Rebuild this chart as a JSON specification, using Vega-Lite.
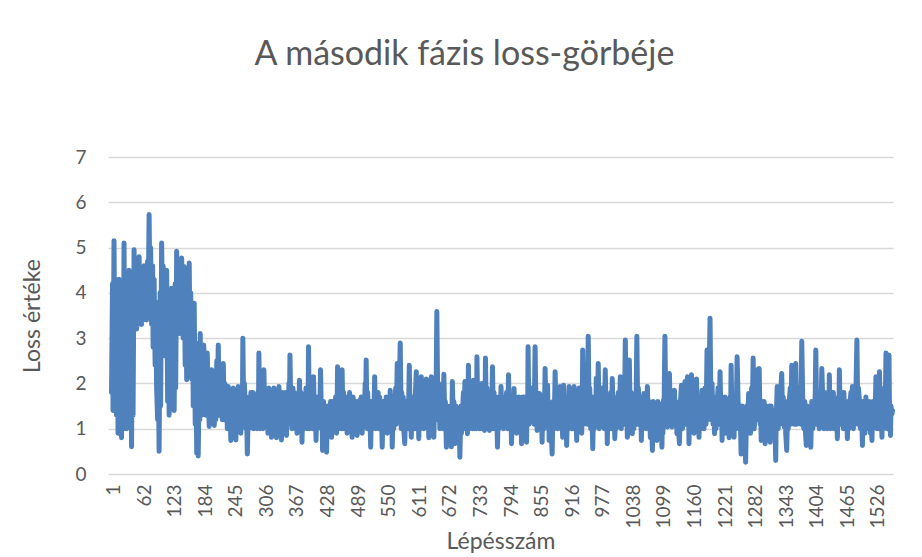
{
  "$schema": "https://vega.github.io/schema/vega-lite/v6.json",
  "width": 785,
  "height": 317,
  "autosize": {"type": "none"},
  "padding": {"left": 108, "top": 157, "right": 29, "bottom": 83},
  "background": "#ffffff",
  "config": {"font": "Lato", "view": {"stroke": null}},
  "title": {"text": "A második fázis loss-görbéje", "fontSize": 34, "fontWeight": "normal", "color": "#595959", "baseline": "alphabetic", "offset": 49, "dx": -36, "anchor": "middle", "frame": "group"},
  "data": {"values": [
{"step":1,"loss":1.8},{"step":3,"loss":4.2},{"step":4,"loss":1.4},{"step":6,"loss":5.15},{"step":8,"loss":1.5},{"step":9,"loss":4.3},{"step":11,"loss":1.3},{"step":13,"loss":4.0},{"step":14,"loss":0.9},{"step":16,"loss":4.3},{"step":18,"loss":1.2},{"step":19,"loss":3.8},{"step":21,"loss":0.8},{"step":23,"loss":4.2},{"step":24,"loss":1.0},{"step":26,"loss":5.1},{"step":28,"loss":1.3},{"step":29,"loss":4.4},{"step":31,"loss":1.0},{"step":33,"loss":4.1},{"step":34,"loss":1.2},{"step":36,"loss":4.5},{"step":38,"loss":1.5},{"step":39,"loss":3.6},{"step":41,"loss":0.6},{"step":43,"loss":3.9},{"step":44,"loss":1.3},{"step":46,"loss":4.95},{"step":48,"loss":3.4},{"step":49,"loss":4.6},{"step":51,"loss":3.2},{"step":53,"loss":4.5},{"step":54,"loss":3.3},{"step":56,"loss":4.8},{"step":58,"loss":3.5},{"step":59,"loss":4.4},{"step":61,"loss":3.3},{"step":63,"loss":4.3},{"step":64,"loss":3.4},{"step":66,"loss":4.6},{"step":68,"loss":3.6},{"step":69,"loss":4.5},{"step":71,"loss":3.4},{"step":73,"loss":4.7},{"step":74,"loss":3.5},{"step":76,"loss":5.73},{"step":78,"loss":3.6},{"step":79,"loss":5.0},{"step":81,"loss":3.3},{"step":83,"loss":4.6},{"step":84,"loss":2.8},{"step":86,"loss":4.3},{"step":88,"loss":2.4},{"step":89,"loss":3.8},{"step":91,"loss":1.9},{"step":93,"loss":1.2},{"step":94,"loss":2.6},{"step":96,"loss":0.5},{"step":98,"loss":4.0},{"step":99,"loss":1.5},{"step":101,"loss":5.1},{"step":103,"loss":3.3},{"step":104,"loss":4.6},{"step":106,"loss":3.0},{"step":108,"loss":4.2},{"step":109,"loss":2.6},{"step":111,"loss":4.5},{"step":113,"loss":1.6},{"step":114,"loss":3.9},{"step":116,"loss":1.3},{"step":118,"loss":3.7},{"step":119,"loss":1.6},{"step":121,"loss":4.1},{"step":123,"loss":1.8},{"step":124,"loss":3.5},{"step":126,"loss":1.4},{"step":128,"loss":4.2},{"step":129,"loss":1.9},{"step":131,"loss":4.92},{"step":133,"loss":3.4},{"step":134,"loss":4.6},{"step":136,"loss":3.1},{"step":138,"loss":4.3},{"step":139,"loss":3.3},{"step":141,"loss":4.77},{"step":142,"loss":3.4},{"step":144,"loss":3.0},{"step":146,"loss":4.58},{"step":148,"loss":2.4},{"step":149,"loss":4.2},{"step":151,"loss":2.08},{"step":153,"loss":4.2},{"step":154,"loss":2.5},{"step":156,"loss":4.66},{"step":158,"loss":2.4},{"step":159,"loss":4.0},{"step":161,"loss":2.1},{"step":163,"loss":3.4},{"step":164,"loss":1.5},{"step":166,"loss":3.77},{"step":168,"loss":1.1},{"step":169,"loss":2.9},{"step":171,"loss":0.46},{"step":172,"loss":1.6},{"step":174,"loss":0.4},{"step":176,"loss":2.2},{"step":177,"loss":1.2},{"step":178,"loss":3.1},{"step":179,"loss":1.6},{"step":180,"loss":2.7},{"step":181,"loss":1.3},{"step":183,"loss":2.3},{"step":185,"loss":2.85},{"step":187,"loss":1.8},{"step":189,"loss":1.3},{"step":190,"loss":2.0},{"step":192,"loss":2.67},{"step":194,"loss":1.7},{"step":196,"loss":1.05},{"step":198,"loss":1.9},{"step":199,"loss":1.2},{"step":201,"loss":2.3},{"step":203,"loss":1.4},{"step":204,"loss":2.0},{"step":206,"loss":1.07},{"step":208,"loss":1.9},{"step":209,"loss":1.2},{"step":211,"loss":2.5},{"step":212,"loss":1.6},{"step":214,"loss":2.85},{"step":216,"loss":1.3},{"step":217,"loss":2.3},{"step":219,"loss":1.5},{"step":221,"loss":2.0},{"step":222,"loss":1.2},{"step":224,"loss":2.44},{"step":226,"loss":1.2},{"step":227,"loss":2.0},{"step":229,"loss":1.48},{"step":231,"loss":1.7},{"step":232,"loss":1.0},{"step":234,"loss":1.93},{"step":236,"loss":1.0},{"step":237,"loss":1.7},{"step":239,"loss":0.74},{"step":241,"loss":1.7},{"step":242,"loss":1.0},{"step":244,"loss":1.9},{"step":246,"loss":1.0},{"step":247,"loss":1.6},{"step":249,"loss":0.75},{"step":251,"loss":1.6},{"step":252,"loss":1.0},{"step":254,"loss":1.93},{"step":256,"loss":1.1},{"step":257,"loss":1.7},{"step":259,"loss":0.9},{"step":261,"loss":1.8},{"step":262,"loss":1.1},{"step":263,"loss":3.0},{"step":265,"loss":1.1},{"step":266,"loss":2.0},{"step":268,"loss":1.5},{"step":269,"loss":1.0},{"step":270,"loss":1.7},{"step":272,"loss":0.44},{"step":274,"loss":1.6},{"step":275,"loss":1.0},{"step":276,"loss":1.5},{"step":278,"loss":1.1},{"step":279,"loss":1.8},{"step":281,"loss":1.3},{"step":283,"loss":1.8},{"step":284,"loss":1.0},{"step":286,"loss":1.6},{"step":288,"loss":1.1},{"step":289,"loss":1.7},{"step":291,"loss":1.0},{"step":293,"loss":1.8},{"step":294,"loss":1.1},{"step":295,"loss":2.67},{"step":297,"loss":1.0},{"step":298,"loss":1.8},{"step":300,"loss":1.3},{"step":302,"loss":1.9},{"step":303,"loss":1.0},{"step":305,"loss":2.3},{"step":307,"loss":1.1},{"step":308,"loss":1.8},{"step":310,"loss":1.3},{"step":312,"loss":1.7},{"step":313,"loss":0.9},{"step":315,"loss":1.9},{"step":317,"loss":1.1},{"step":318,"loss":1.6},{"step":320,"loss":0.81},{"step":322,"loss":1.6},{"step":323,"loss":1.0},{"step":325,"loss":1.9},{"step":327,"loss":1.0},{"step":328,"loss":1.7},{"step":330,"loss":0.8},{"step":332,"loss":1.7},{"step":333,"loss":1.0},{"step":335,"loss":1.93},{"step":337,"loss":1.1},{"step":338,"loss":1.6},{"step":340,"loss":0.75},{"step":342,"loss":1.8},{"step":343,"loss":1.0},{"step":345,"loss":1.6},{"step":347,"loss":1.1},{"step":348,"loss":1.8},{"step":350,"loss":0.85},{"step":352,"loss":1.7},{"step":353,"loss":1.1},{"step":355,"loss":2.0},{"step":356,"loss":1.4},{"step":357,"loss":2.63},{"step":359,"loss":1.2},{"step":360,"loss":1.8},{"step":361,"loss":1.0},{"step":363,"loss":1.9},{"step":364,"loss":1.1},{"step":366,"loss":1.8},{"step":368,"loss":1.0},{"step":369,"loss":1.7},{"step":371,"loss":0.9},{"step":373,"loss":1.6},{"step":374,"loss":1.0},{"step":376,"loss":2.07},{"step":378,"loss":1.1},{"step":379,"loss":1.8},{"step":381,"loss":0.7},{"step":383,"loss":1.7},{"step":384,"loss":1.0},{"step":386,"loss":1.6},{"step":388,"loss":1.1},{"step":389,"loss":1.9},{"step":391,"loss":1.0},{"step":392,"loss":1.7},{"step":393,"loss":1.2},{"step":394,"loss":2.81},{"step":396,"loss":1.0},{"step":397,"loss":1.8},{"step":399,"loss":1.2},{"step":401,"loss":1.8},{"step":402,"loss":1.0},{"step":404,"loss":2.15},{"step":406,"loss":1.1},{"step":407,"loss":1.7},{"step":409,"loss":0.74},{"step":411,"loss":1.7},{"step":412,"loss":1.0},{"step":414,"loss":1.6},{"step":416,"loss":1.1},{"step":418,"loss":2.3},{"step":420,"loss":1.0},{"step":421,"loss":1.6},{"step":422,"loss":0.52},{"step":424,"loss":1.6},{"step":425,"loss":0.9},{"step":427,"loss":1.5},{"step":428,"loss":0.9},{"step":429,"loss":1.4},{"step":430,"loss":0.48},{"step":432,"loss":1.5},{"step":433,"loss":0.9},{"step":435,"loss":1.48},{"step":437,"loss":1.0},{"step":438,"loss":1.6},{"step":440,"loss":0.81},{"step":442,"loss":1.6},{"step":443,"loss":1.0},{"step":445,"loss":1.48},{"step":447,"loss":1.0},{"step":448,"loss":1.7},{"step":450,"loss":0.9},{"step":451,"loss":1.5},{"step":452,"loss":2.37},{"step":454,"loss":1.0},{"step":455,"loss":1.8},{"step":457,"loss":1.4},{"step":459,"loss":1.0},{"step":461,"loss":2.3},{"step":463,"loss":1.0},{"step":464,"loss":1.8},{"step":466,"loss":1.4},{"step":468,"loss":1.0},{"step":469,"loss":1.7},{"step":471,"loss":0.9},{"step":473,"loss":1.6},{"step":474,"loss":1.0},{"step":476,"loss":1.8},{"step":478,"loss":1.0},{"step":479,"loss":1.6},{"step":481,"loss":0.81},{"step":483,"loss":1.7},{"step":484,"loss":1.0},{"step":486,"loss":1.48},{"step":488,"loss":1.0},{"step":489,"loss":1.6},{"step":491,"loss":0.85},{"step":493,"loss":1.5},{"step":494,"loss":1.0},{"step":496,"loss":1.63},{"step":498,"loss":1.0},{"step":499,"loss":1.7},{"step":501,"loss":0.9},{"step":503,"loss":1.7},{"step":505,"loss":1.1},{"step":507,"loss":2.0},{"step":508,"loss":1.4},{"step":509,"loss":2.52},{"step":511,"loss":1.0},{"step":512,"loss":1.8},{"step":514,"loss":1.2},{"step":516,"loss":1.6},{"step":518,"loss":0.59},{"step":520,"loss":1.6},{"step":521,"loss":1.0},{"step":522,"loss":1.5},{"step":524,"loss":1.1},{"step":526,"loss":2.15},{"step":528,"loss":1.0},{"step":529,"loss":1.8},{"step":531,"loss":1.1},{"step":533,"loss":1.8},{"step":534,"loss":1.0},{"step":536,"loss":1.7},{"step":538,"loss":1.0},{"step":539,"loss":1.6},{"step":541,"loss":0.59},{"step":543,"loss":1.6},{"step":544,"loss":1.0},{"step":546,"loss":1.4},{"step":548,"loss":1.1},{"step":549,"loss":1.7},{"step":551,"loss":0.9},{"step":553,"loss":1.6},{"step":555,"loss":1.0},{"step":557,"loss":1.85},{"step":559,"loss":1.1},{"step":560,"loss":1.6},{"step":561,"loss":0.59},{"step":563,"loss":1.6},{"step":564,"loss":1.0},{"step":566,"loss":1.5},{"step":568,"loss":1.9},{"step":569,"loss":1.1},{"step":571,"loss":2.44},{"step":573,"loss":1.2},{"step":575,"loss":1.9},{"step":577,"loss":2.89},{"step":579,"loss":1.0},{"step":580,"loss":1.8},{"step":581,"loss":1.2},{"step":583,"loss":1.7},{"step":584,"loss":1.0},{"step":586,"loss":0.67},{"step":588,"loss":1.6},{"step":589,"loss":1.0},{"step":591,"loss":1.5},{"step":593,"loss":1.0},{"step":595,"loss":2.4},{"step":597,"loss":1.1},{"step":598,"loss":1.6},{"step":599,"loss":0.81},{"step":601,"loss":1.7},{"step":602,"loss":1.0},{"step":604,"loss":1.6},{"step":606,"loss":1.0},{"step":607,"loss":1.7},{"step":609,"loss":2.26},{"step":611,"loss":1.1},{"step":612,"loss":1.7},{"step":614,"loss":0.78},{"step":616,"loss":1.8},{"step":617,"loss":1.0},{"step":619,"loss":2.15},{"step":621,"loss":1.2},{"step":622,"loss":1.8},{"step":624,"loss":1.0},{"step":626,"loss":1.8},{"step":627,"loss":1.1},{"step":629,"loss":2.1},{"step":631,"loss":1.1},{"step":632,"loss":1.7},{"step":634,"loss":0.8},{"step":636,"loss":1.7},{"step":637,"loss":1.0},{"step":639,"loss":2.15},{"step":641,"loss":1.2},{"step":642,"loss":1.7},{"step":644,"loss":0.81},{"step":646,"loss":1.8},{"step":648,"loss":1.2},{"step":650,"loss":3.59},{"step":652,"loss":1.3},{"step":654,"loss":2.0},{"step":656,"loss":1.0},{"step":657,"loss":1.8},{"step":659,"loss":1.19},{"step":661,"loss":1.8},{"step":662,"loss":1.0},{"step":664,"loss":2.2},{"step":666,"loss":1.1},{"step":667,"loss":1.6},{"step":669,"loss":0.59},{"step":671,"loss":1.5},{"step":672,"loss":0.9},{"step":674,"loss":1.26},{"step":676,"loss":1.0},{"step":677,"loss":1.5},{"step":679,"loss":0.6},{"step":680,"loss":1.2},{"step":681,"loss":2.04},{"step":683,"loss":1.0},{"step":684,"loss":1.6},{"step":686,"loss":0.67},{"step":688,"loss":1.5},{"step":690,"loss":1.26},{"step":692,"loss":0.8},{"step":694,"loss":1.4},{"step":696,"loss":0.37},{"step":698,"loss":1.5},{"step":699,"loss":0.9},{"step":701,"loss":1.3},{"step":703,"loss":1.8},{"step":704,"loss":1.0},{"step":706,"loss":2.04},{"step":708,"loss":1.1},{"step":709,"loss":1.7},{"step":711,"loss":0.89},{"step":712,"loss":1.4},{"step":713,"loss":2.4},{"step":715,"loss":1.0},{"step":716,"loss":1.8},{"step":718,"loss":1.11},{"step":720,"loss":1.8},{"step":721,"loss":1.0},{"step":723,"loss":2.07},{"step":725,"loss":1.0},{"step":726,"loss":1.8},{"step":728,"loss":1.3},{"step":729,"loss":1.0},{"step":730,"loss":2.59},{"step":732,"loss":1.1},{"step":733,"loss":1.9},{"step":735,"loss":1.0},{"step":737,"loss":1.8},{"step":738,"loss":1.0},{"step":740,"loss":2.0},{"step":742,"loss":1.1},{"step":743,"loss":1.7},{"step":745,"loss":0.96},{"step":746,"loss":1.3},{"step":747,"loss":2.56},{"step":749,"loss":1.0},{"step":750,"loss":1.9},{"step":752,"loss":1.4},{"step":753,"loss":1.8},{"step":755,"loss":0.96},{"step":757,"loss":1.8},{"step":759,"loss":1.0},{"step":761,"loss":2.37},{"step":763,"loss":1.0},{"step":764,"loss":1.8},{"step":766,"loss":1.3},{"step":768,"loss":1.0},{"step":769,"loss":1.6},{"step":771,"loss":0.59},{"step":773,"loss":1.7},{"step":774,"loss":1.0},{"step":776,"loss":1.6},{"step":777,"loss":1.1},{"step":778,"loss":1.93},{"step":780,"loss":1.1},{"step":781,"loss":1.7},{"step":783,"loss":1.0},{"step":784,"loss":1.3},{"step":786,"loss":1.63},{"step":788,"loss":1.1},{"step":789,"loss":1.8},{"step":791,"loss":1.0},{"step":792,"loss":1.5},{"step":793,"loss":2.19},{"step":795,"loss":1.0},{"step":797,"loss":1.7},{"step":799,"loss":0.67},{"step":801,"loss":1.7},{"step":802,"loss":1.0},{"step":804,"loss":1.89},{"step":806,"loss":1.0},{"step":807,"loss":1.7},{"step":809,"loss":0.9},{"step":811,"loss":1.6},{"step":812,"loss":1.0},{"step":814,"loss":1.7},{"step":816,"loss":1.0},{"step":817,"loss":1.6},{"step":819,"loss":0.67},{"step":821,"loss":1.7},{"step":822,"loss":1.0},{"step":824,"loss":1.7},{"step":826,"loss":1.0},{"step":827,"loss":1.6},{"step":829,"loss":0.7},{"step":830,"loss":1.7},{"step":831,"loss":1.1},{"step":832,"loss":2.81},{"step":834,"loss":1.1},{"step":835,"loss":1.9},{"step":837,"loss":1.5},{"step":839,"loss":1.9},{"step":841,"loss":1.26},{"step":843,"loss":1.9},{"step":844,"loss":1.1},{"step":846,"loss":2.81},{"step":848,"loss":1.2},{"step":849,"loss":1.8},{"step":850,"loss":0.96},{"step":852,"loss":1.6},{"step":853,"loss":1.0},{"step":855,"loss":1.78},{"step":857,"loss":1.0},{"step":858,"loss":1.6},{"step":860,"loss":0.7},{"step":862,"loss":1.7},{"step":864,"loss":1.0},{"step":866,"loss":2.33},{"step":868,"loss":1.1},{"step":869,"loss":1.7},{"step":871,"loss":1.96},{"step":872,"loss":1.2},{"step":873,"loss":1.6},{"step":874,"loss":0.74},{"step":876,"loss":1.5},{"step":878,"loss":1.0},{"step":880,"loss":0.44},{"step":882,"loss":1.6},{"step":884,"loss":1.0},{"step":886,"loss":2.26},{"step":888,"loss":1.1},{"step":889,"loss":1.8},{"step":891,"loss":1.0},{"step":893,"loss":1.7},{"step":894,"loss":1.1},{"step":896,"loss":1.93},{"step":898,"loss":1.0},{"step":899,"loss":1.6},{"step":901,"loss":0.81},{"step":902,"loss":1.4},{"step":903,"loss":1.96},{"step":905,"loss":1.0},{"step":907,"loss":1.6},{"step":909,"loss":0.63},{"step":911,"loss":1.6},{"step":912,"loss":1.0},{"step":914,"loss":1.93},{"step":916,"loss":1.1},{"step":917,"loss":1.7},{"step":919,"loss":1.0},{"step":921,"loss":1.8},{"step":922,"loss":1.0},{"step":924,"loss":1.93},{"step":926,"loss":1.0},{"step":927,"loss":1.6},{"step":929,"loss":0.74},{"step":931,"loss":1.7},{"step":932,"loss":1.0},{"step":934,"loss":1.9},{"step":936,"loss":1.1},{"step":937,"loss":1.7},{"step":939,"loss":0.9},{"step":940,"loss":1.5},{"step":941,"loss":2.74},{"step":943,"loss":1.1},{"step":944,"loss":1.9},{"step":946,"loss":1.4},{"step":948,"loss":1.9},{"step":950,"loss":1.1},{"step":952,"loss":3.04},{"step":954,"loss":1.2},{"step":955,"loss":1.9},{"step":957,"loss":1.0},{"step":959,"loss":1.6},{"step":961,"loss":0.56},{"step":963,"loss":1.7},{"step":964,"loss":1.0},{"step":966,"loss":1.6},{"step":967,"loss":1.1},{"step":968,"loss":2.11},{"step":970,"loss":1.2},{"step":972,"loss":2.44},{"step":974,"loss":1.0},{"step":975,"loss":1.9},{"step":977,"loss":1.3},{"step":979,"loss":1.9},{"step":981,"loss":1.26},{"step":983,"loss":1.9},{"step":984,"loss":1.0},{"step":986,"loss":2.3},{"step":988,"loss":1.1},{"step":989,"loss":1.6},{"step":990,"loss":0.67},{"step":992,"loss":1.6},{"step":993,"loss":1.0},{"step":995,"loss":1.4},{"step":997,"loss":1.8},{"step":998,"loss":1.0},{"step":1000,"loss":2.11},{"step":1002,"loss":1.1},{"step":1003,"loss":1.7},{"step":1005,"loss":0.78},{"step":1007,"loss":1.6},{"step":1008,"loss":1.0},{"step":1010,"loss":1.5},{"step":1012,"loss":1.8},{"step":1014,"loss":1.1},{"step":1016,"loss":2.15},{"step":1018,"loss":1.0},{"step":1019,"loss":1.8},{"step":1021,"loss":1.2},{"step":1023,"loss":1.9},{"step":1024,"loss":1.1},{"step":1026,"loss":2.96},{"step":1028,"loss":1.2},{"step":1029,"loss":1.7},{"step":1030,"loss":0.81},{"step":1032,"loss":1.1},{"step":1034,"loss":2.52},{"step":1036,"loss":1.1},{"step":1038,"loss":1.8},{"step":1040,"loss":0.89},{"step":1042,"loss":1.7},{"step":1043,"loss":1.0},{"step":1045,"loss":1.5},{"step":1047,"loss":1.1},{"step":1049,"loss":3.04},{"step":1051,"loss":1.1},{"step":1052,"loss":1.9},{"step":1054,"loss":1.2},{"step":1056,"loss":1.7},{"step":1058,"loss":0.74},{"step":1060,"loss":1.6},{"step":1061,"loss":1.0},{"step":1063,"loss":1.78},{"step":1065,"loss":1.1},{"step":1066,"loss":1.7},{"step":1068,"loss":1.0},{"step":1069,"loss":1.3},{"step":1070,"loss":1.93},{"step":1072,"loss":1.1},{"step":1074,"loss":1.6},{"step":1076,"loss":0.8},{"step":1078,"loss":1.5},{"step":1080,"loss":0.52},{"step":1082,"loss":1.6},{"step":1083,"loss":0.9},{"step":1085,"loss":1.4},{"step":1086,"loss":1.0},{"step":1088,"loss":1.5},{"step":1089,"loss":0.74},{"step":1091,"loss":1.6},{"step":1092,"loss":1.0},{"step":1094,"loss":1.55},{"step":1096,"loss":1.0},{"step":1097,"loss":1.5},{"step":1099,"loss":0.59},{"step":1100,"loss":1.3},{"step":1101,"loss":0.9},{"step":1102,"loss":1.63},{"step":1103,"loss":1.2},{"step":1105,"loss":3.04},{"step":1107,"loss":1.2},{"step":1108,"loss":1.9},{"step":1110,"loss":1.04},{"step":1112,"loss":1.8},{"step":1114,"loss":2.22},{"step":1116,"loss":1.2},{"step":1117,"loss":1.8},{"step":1119,"loss":1.04},{"step":1121,"loss":1.8},{"step":1122,"loss":1.1},{"step":1124,"loss":1.85},{"step":1126,"loss":1.1},{"step":1127,"loss":1.6},{"step":1129,"loss":0.89},{"step":1131,"loss":1.5},{"step":1132,"loss":1.0},{"step":1134,"loss":0.67},{"step":1136,"loss":1.6},{"step":1138,"loss":1.96},{"step":1140,"loss":1.0},{"step":1141,"loss":1.7},{"step":1143,"loss":1.2},{"step":1145,"loss":2.04},{"step":1147,"loss":1.1},{"step":1148,"loss":1.8},{"step":1150,"loss":2.15},{"step":1151,"loss":1.2},{"step":1152,"loss":1.6},{"step":1153,"loss":0.67},{"step":1155,"loss":1.8},{"step":1156,"loss":1.0},{"step":1158,"loss":2.19},{"step":1160,"loss":1.1},{"step":1161,"loss":1.8},{"step":1163,"loss":0.9},{"step":1165,"loss":1.8},{"step":1166,"loss":1.1},{"step":1168,"loss":2.1},{"step":1170,"loss":1.1},{"step":1171,"loss":1.7},{"step":1173,"loss":0.81},{"step":1175,"loss":1.7},{"step":1177,"loss":1.0},{"step":1179,"loss":1.85},{"step":1181,"loss":1.2},{"step":1183,"loss":1.0},{"step":1185,"loss":1.9},{"step":1187,"loss":1.1},{"step":1189,"loss":2.74},{"step":1190,"loss":1.2},{"step":1192,"loss":1.3},{"step":1193,"loss":2.0},{"step":1195,"loss":3.44},{"step":1197,"loss":1.2},{"step":1199,"loss":2.0},{"step":1201,"loss":1.1},{"step":1202,"loss":1.7},{"step":1204,"loss":0.89},{"step":1206,"loss":1.6},{"step":1207,"loss":1.0},{"step":1209,"loss":1.5},{"step":1211,"loss":1.9},{"step":1213,"loss":1.1},{"step":1215,"loss":2.26},{"step":1217,"loss":1.1},{"step":1218,"loss":1.6},{"step":1219,"loss":0.74},{"step":1221,"loss":1.6},{"step":1223,"loss":1.2},{"step":1225,"loss":1.7},{"step":1226,"loss":0.9},{"step":1228,"loss":1.4},{"step":1230,"loss":1.0},{"step":1231,"loss":1.6},{"step":1233,"loss":0.8},{"step":1235,"loss":1.7},{"step":1236,"loss":1.1},{"step":1237,"loss":2.4},{"step":1239,"loss":1.1},{"step":1241,"loss":1.7},{"step":1243,"loss":0.81},{"step":1244,"loss":1.7},{"step":1246,"loss":1.3},{"step":1247,"loss":1.0},{"step":1249,"loss":2.59},{"step":1251,"loss":1.6},{"step":1253,"loss":1.0},{"step":1255,"loss":1.5},{"step":1257,"loss":0.44},{"step":1259,"loss":1.5},{"step":1261,"loss":1.2},{"step":1263,"loss":0.8},{"step":1264,"loss":1.3},{"step":1266,"loss":0.26},{"step":1268,"loss":1.5},{"step":1270,"loss":0.9},{"step":1272,"loss":1.78},{"step":1274,"loss":1.2},{"step":1276,"loss":0.9},{"step":1278,"loss":1.9},{"step":1279,"loss":1.1},{"step":1281,"loss":2.56},{"step":1283,"loss":1.0},{"step":1285,"loss":1.3},{"step":1287,"loss":1.9},{"step":1289,"loss":2.3},{"step":1291,"loss":1.2},{"step":1293,"loss":2.33},{"step":1295,"loss":1.1},{"step":1296,"loss":1.5},{"step":1297,"loss":0.74},{"step":1299,"loss":1.6},{"step":1300,"loss":0.9},{"step":1302,"loss":1.19},{"step":1303,"loss":1.6},{"step":1305,"loss":0.67},{"step":1307,"loss":1.5},{"step":1308,"loss":0.9},{"step":1310,"loss":1.26},{"step":1312,"loss":0.9},{"step":1313,"loss":1.5},{"step":1315,"loss":0.7},{"step":1317,"loss":1.5},{"step":1318,"loss":0.9},{"step":1320,"loss":1.2},{"step":1322,"loss":0.8},{"step":1324,"loss":1.4},{"step":1326,"loss":0.3},{"step":1327,"loss":1.2},{"step":1329,"loss":1.93},{"step":1331,"loss":1.0},{"step":1332,"loss":1.8},{"step":1334,"loss":1.2},{"step":1336,"loss":1.8},{"step":1338,"loss":2.22},{"step":1340,"loss":1.1},{"step":1341,"loss":1.7},{"step":1343,"loss":1.04},{"step":1345,"loss":1.5},{"step":1346,"loss":0.9},{"step":1348,"loss":0.52},{"step":1350,"loss":1.6},{"step":1351,"loss":1.0},{"step":1353,"loss":1.6},{"step":1355,"loss":1.9},{"step":1356,"loss":1.1},{"step":1358,"loss":2.4},{"step":1360,"loss":1.2},{"step":1361,"loss":1.9},{"step":1363,"loss":1.1},{"step":1364,"loss":1.8},{"step":1366,"loss":2.44},{"step":1368,"loss":1.1},{"step":1370,"loss":1.9},{"step":1372,"loss":1.63},{"step":1374,"loss":1.9},{"step":1376,"loss":1.1},{"step":1378,"loss":2.93},{"step":1380,"loss":1.6},{"step":1382,"loss":1.0},{"step":1384,"loss":1.6},{"step":1385,"loss":1.0},{"step":1387,"loss":0.63},{"step":1389,"loss":1.5},{"step":1390,"loss":0.9},{"step":1392,"loss":1.4},{"step":1394,"loss":1.0},{"step":1396,"loss":0.59},{"step":1398,"loss":1.6},{"step":1400,"loss":1.0},{"step":1402,"loss":1.5},{"step":1404,"loss":1.1},{"step":1406,"loss":2.74},{"step":1408,"loss":1.1},{"step":1409,"loss":1.8},{"step":1411,"loss":1.26},{"step":1413,"loss":1.0},{"step":1415,"loss":1.5},{"step":1416,"loss":1.1},{"step":1418,"loss":2.33},{"step":1420,"loss":1.6},{"step":1422,"loss":1.0},{"step":1424,"loss":1.7},{"step":1426,"loss":1.04},{"step":1428,"loss":1.8},{"step":1429,"loss":1.0},{"step":1431,"loss":1.6},{"step":1432,"loss":1.1},{"step":1433,"loss":2.19},{"step":1435,"loss":1.0},{"step":1437,"loss":1.8},{"step":1439,"loss":1.19},{"step":1441,"loss":1.8},{"step":1442,"loss":1.0},{"step":1444,"loss":1.5},{"step":1446,"loss":1.0},{"step":1447,"loss":1.6},{"step":1449,"loss":0.78},{"step":1451,"loss":1.7},{"step":1452,"loss":1.1},{"step":1453,"loss":2.3},{"step":1455,"loss":1.1},{"step":1457,"loss":1.8},{"step":1459,"loss":1.63},{"step":1461,"loss":1.0},{"step":1462,"loss":1.8},{"step":1464,"loss":1.2},{"step":1466,"loss":1.0},{"step":1467,"loss":1.6},{"step":1469,"loss":0.78},{"step":1471,"loss":1.6},{"step":1472,"loss":1.0},{"step":1474,"loss":1.5},{"step":1476,"loss":1.8},{"step":1477,"loss":1.1},{"step":1479,"loss":1.93},{"step":1481,"loss":1.0},{"step":1482,"loss":1.8},{"step":1484,"loss":1.3},{"step":1486,"loss":1.8},{"step":1488,"loss":2.96},{"step":1490,"loss":1.1},{"step":1491,"loss":1.9},{"step":1493,"loss":1.63},{"step":1495,"loss":1.0},{"step":1497,"loss":1.6},{"step":1499,"loss":0.63},{"step":1501,"loss":1.6},{"step":1503,"loss":1.4},{"step":1504,"loss":0.9},{"step":1506,"loss":1.7},{"step":1508,"loss":1.0},{"step":1509,"loss":1.6},{"step":1511,"loss":1.0},{"step":1513,"loss":1.6},{"step":1515,"loss":0.9},{"step":1516,"loss":1.5},{"step":1518,"loss":0.74},{"step":1520,"loss":1.6},{"step":1522,"loss":1.5},{"step":1524,"loss":1.1},{"step":1526,"loss":2.15},{"step":1528,"loss":1.0},{"step":1529,"loss":1.8},{"step":1531,"loss":1.3},{"step":1532,"loss":1.0},{"step":1533,"loss":2.26},{"step":1535,"loss":1.1},{"step":1536,"loss":1.7},{"step":1538,"loss":0.81},{"step":1539,"loss":1.6},{"step":1540,"loss":1.0},{"step":1541,"loss":1.5},{"step":1543,"loss":1.9},{"step":1544,"loss":1.1},{"step":1546,"loss":2.67},{"step":1548,"loss":1.0},{"step":1550,"loss":1.2},{"step":1552,"loss":2.63},{"step":1553,"loss":1.4},{"step":1555,"loss":0.85},{"step":1556,"loss":1.5},{"step":1558,"loss":1.33},{"step":1559,"loss":1.4}
  ]},
  "mark": {"type": "line", "color": "#4F81BD", "strokeWidth": 5, "strokeCap": "round", "strokeJoin": "round"},
  "encoding": {
    "x": {"field": "step", "type": "quantitative",
      "scale": {"domain": [-6, 1560], "nice": false, "zero": false},
      "axis": {"values": [1,62,123,184,245,306,367,428,489,550,611,672,733,794,855,916,977,1038,1099,1160,1221,1282,1343,1404,1465,1526],
        "format": "d", "labelAngle": -90, "labelOverlap": false, "labelFlush": false, "labelBound": false, "labelOffset": 2,
        "labelFontSize": 19, "labelColor": "#595959", "labelPadding": 10,
        "ticks": false, "domain": false, "grid": false,
        "title": "Lépésszám", "titleFontSize": 23, "titleFontWeight": "normal", "titleColor": "#595959", "titlePadding": 2}},
    "y": {"field": "loss", "type": "quantitative",
      "scale": {"domain": [0, 7], "nice": false},
      "axis": {"values": [0,1,2,3,4,5,6,7], "grid": true, "gridColor": "#D9D9D9", "gridWidth": 1.3,
        "ticks": false, "domain": false,
        "labelFontSize": 19, "labelColor": "#595959", "labelPadding": 22,
        "title": "Loss értéke", "titleFontSize": 23, "titleFontWeight": "normal", "titleColor": "#595959", "titlePadding": 30}}
  }
}
